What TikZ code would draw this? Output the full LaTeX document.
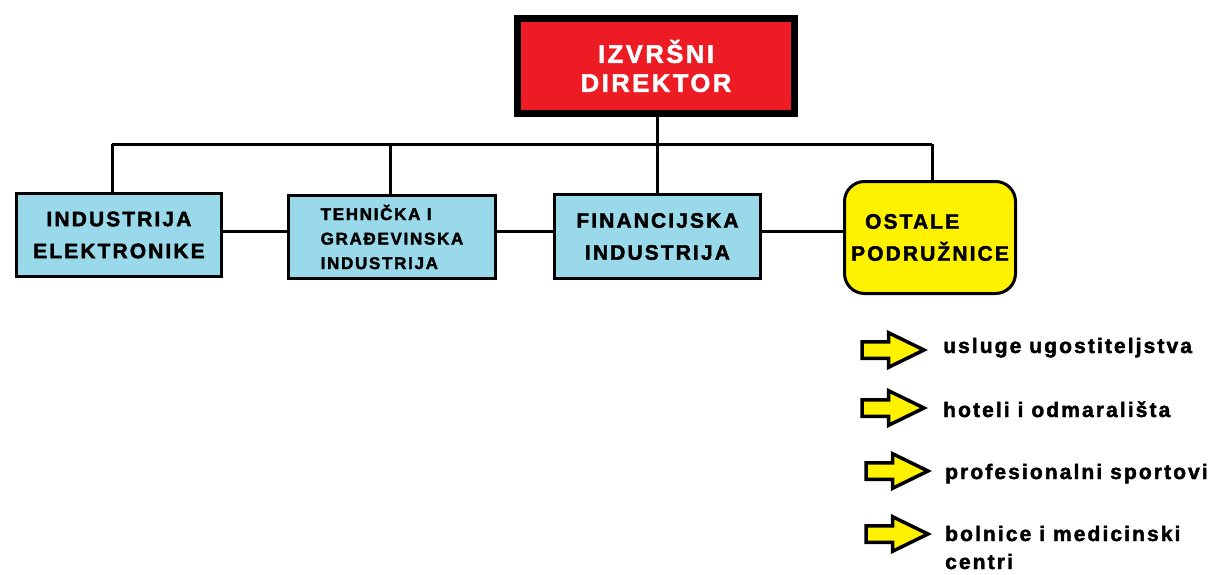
\documentclass[tikz,border=0pt]{standalone}
\usepackage{fontspec}
\setmainfont{Liberation Sans}[LetterSpace=10, BoldFeatures={FakeBold=2}]
\usetikzlibrary{shapes.arrows}
\definecolor{boxblue}{RGB}{153,217,234}
\definecolor{dirred}{RGB}{237,28,36}
\definecolor{ostyellow}{RGB}{255,242,0}
\tikzset{
  unitbox/.style={draw=black, line width=3pt, fill=boxblue, inner sep=0pt, outer sep=0pt,
    font=\bfseries\fontsize{21}{32}\selectfont, align=center},
  conn/.style={draw=black, line width=3pt},
  itemarrow/.style={single arrow, draw=black, line width=3.5pt, fill=ostyellow,
    minimum height=62pt, minimum width=30.5pt, inner sep=6.5pt,
    single arrow head extend=9pt, single arrow tip angle=52, outer sep=0pt, anchor=tail},
  itemtext/.style={anchor=base west, inner sep=0pt,
    font=\bfseries\fontsize{21}{30}\selectfont},
}
\begin{document}
\begin{tikzpicture}[x=1pt,y=-1pt]
\useasboundingbox[fill=white] (0,0) rectangle (1213,574);
% director
\node[draw=black, line width=7pt, fill=dirred, inner sep=0pt, outer sep=0pt,
  minimum width=277pt, minimum height=95pt, align=center, text=white,
  font=\bfseries\fontsize{25.5}{29}\selectfont] (dir) at (656,66) {IZVRŠNI\\DIREKTOR};
% units
\node[unitbox, minimum width=205pt, minimum height=83pt] (u1) at (119,235) {INDUSTRIJA\\ELEKTRONIKE};
\node[unitbox, minimum width=207pt, minimum height=83pt, align=left,
  font=\bfseries\fontsize{17}{24.5}\selectfont] (u2) at (392,237) {TEHNIČKA I\\GRAĐEVINSKA\\INDUSTRIJA};
\node[unitbox, minimum width=206pt, minimum height=84pt] (u3) at (657.5,236.5) {FINANCIJSKA\\INDUSTRIJA};
\node[unitbox, fill=ostyellow, rounded corners=20pt, minimum width=171pt, minimum height=112pt,
  align=left] (u4) at (930,237.5) {\hspace*{14pt}OSTALE\\PODRUŽNICE};
% bus
\coordinate (bus) at (657,144);
\coordinate (b1) at (112,144);
\coordinate (b2) at (390,144);
\coordinate (b4) at (932,144);
\coordinate (hl) at (0,231);
\draw[conn] (dir.south -| bus) -- (bus);
\draw[conn] (b1) -- (b4);
\draw[conn] (b1) -- (b1 |- u1.north);
\draw[conn] (b2) -- (b2 |- u2.north);
\draw[conn] (bus) -- (bus |- u3.north);
\draw[conn] (b4) -- (b4 |- u4.north);
\draw[conn] (u1.east |- hl) -- (u2.west |- hl);
\draw[conn] (u2.east |- hl) -- (u3.west |- hl);
\draw[conn] (u3.east |- hl) -- (u4.west |- hl);
% items
\node[itemarrow] (a1) at (862,350) {};
\node[itemarrow] (a2) at (862,408) {};
\node[itemarrow] (a3) at (866,471) {};
\node[itemarrow] (a4) at (866,534) {};
\node[itemtext] (t1) at (943,353) {usluge ugostiteljstva};
\node[itemtext] (t2) at (943,417) {hoteli i odmarališta};
\node[itemtext] (t3) at (945,479) {profesionalni sportovi};
\node[itemtext] (t4) at (945,541) {\vtop{\baselineskip=28pt\hbox{bolnice i medicinski}\hbox{centri}}};
\end{tikzpicture}
\end{document}
